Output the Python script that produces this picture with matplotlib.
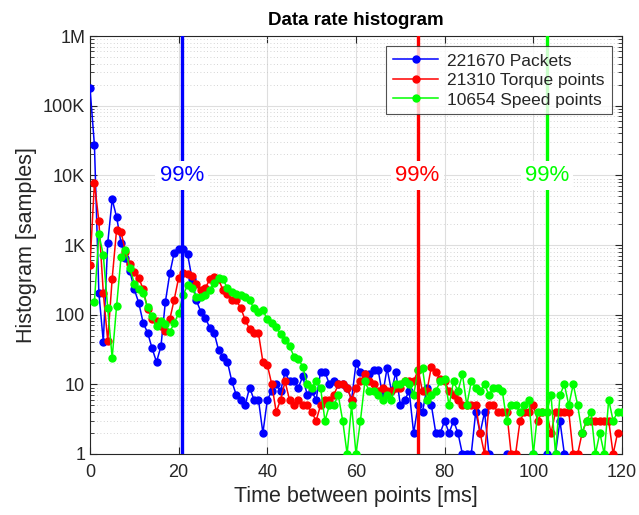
import numpy as np
import matplotlib
matplotlib.use("Agg")
import matplotlib.pyplot as plt
from matplotlib.ticker import FixedLocator, LogLocator, NullFormatter

plt.rcParams['font.family'] = ['Liberation Sans', 'DejaVu Sans']

nan = np.nan
time_ms = list(range(0, 121))

packets = [180000, 27000, 205, 41, 1070, 4500, 2530, 1070, 650, 420,
           230, 148, 76, 55, 33, 21, 35, 153, 390, 780,
           880, 880, 750, 330, 160, 110, 91, 65, 55, 31,
           25, 21, 11, 7, 6, 5, 9, 6, 6, 2,
           6, 8, 10, 8, 15, 11, 11, 9, 13, 7,
           8, 6, 15, 15, 10, 11, 10, 10, 9, 6,
           20, 15, 14, 14, 16, 16, 7, 17, 8, 15,
           5, 6, 8, 2, 5, 4, 9, 5, 2, 2,
           3, 2, 3, 2, 1, 1, 1, 4, 2, 4,
           1, nan, nan, nan, 1, nan, nan, nan, nan, nan,
           1, nan, nan, 1, nan, 1, 3, 1, nan, nan,
           nan, 2, nan, nan, nan, nan, nan, nan, nan, nan, nan]

torque = [515, 7800, 2200, 205, 42, 330, 1660, 1540, 800, 540,
          410, 340, 230, 120, 88, 82, 68, 59, 86, 165,
          340, 390, 380, 360, 280, 225, 240, 320, 350, 320,
          225, 200, 160, 160, 125, 84, 62, 55, 54, 21,
          19, 10, 4, 6, 11, 6, 5, 6, 5, 5,
          4, 3, 5, 6, 6, 7, 10, 10, 9, 6,
          9, 11, 14, 11, 10, 8, 9, 8, 8, 9,
          9, 11, 11, 11, 16, 8, 8, 18, 15, 12,
          11, 8, 7, 6, 5, 5, 5, 5, 2, 1,
          5, 5, 4, 4, 4, 1, 1, 3, 4, 4,
          5, 3, 4, 4, 2, 4, 4, 4, 4, 1,
          1, 2, 3, 3, 3, 3, 3, 3, 1, 2, nan]

speed = [nan, 154, 1430, 720, 123, 24, 133, 670, 840, 460,
         280, 230, 205, 127, 95, 68, 82, 73, 57, 75,
         106, 190, 265, 240, 177, 177, 190, 225, 285, 340,
         320, 240, 212, 197, 190, 177, 160, 123, 110, 115,
         86, 76, 67, 52, 44, 36, 25, 23, 18, 10,
         9, 11, 9, 3, 5, 5, 7, 3, 1, 5,
         1, 3, 11, 8, 8, 7, 6, 7, 6, 10,
         10, 11, 10, 7, 16, 17, 6, 7, 8, 11,
         12, 5, 11, 8, 14, 5, 11, 9, 8, 10,
         7, 9, 9, 8, 3, 5, 5, 4, 5, 6,
         1, 4, 4, 4, 7, 1, 7, 10, 5, 10,
         5, 2, 3, 4, 1, 2, 1, 6, 3, 4, 4]

series_labels = ['221670 Packets', '21310 Torque points', '10654 Speed points']
series_colors = ['#0000ff', '#ff0000', '#00ff00']
p99_ms = [20.7, 73.9, 103.1]
p99_label = '99%'

ytick_vals = [1, 10, 100, 1e3, 1e4, 1e5, 1e6]
ytick_labels = ['1', '10', '100', '1K', '10K', '100K', '1M']
xtick_vals = [0, 20, 40, 60, 80, 100, 120]

fig = plt.figure(figsize=(6.39, 5.15), dpi=100)
ax = fig.add_axes([90/639, 1-454/515, (622-90)/639, (454-36)/515])

dark = (0.15, 0.15, 0.15)

for vals, col, lab in zip([packets, torque, speed], series_colors, series_labels):
    ax.plot(time_ms, vals, '-o', color=col, markersize=5, linewidth=1.1,
            label=lab, zorder=3)

for xv, col in zip(p99_ms, series_colors):
    ax.axvline(xv, color=col, linewidth=2.4, zorder=4)
    ax.text(xv, 1e4, p99_label, color=col, fontsize=16, ha='center', va='center',
            zorder=5, bbox=dict(facecolor='white', edgecolor='none', pad=3))

ax.set_yscale('log')
ax.set_xlim(0, 120)
ax.set_ylim(1, 1e6)
ax.yaxis.set_major_locator(FixedLocator(ytick_vals))
ax.set_yticklabels(ytick_labels)
ax.yaxis.set_minor_locator(LogLocator(base=10, subs=np.arange(2, 10), numticks=20))
ax.yaxis.set_minor_formatter(NullFormatter())
ax.set_xticks(xtick_vals)

ax.grid(True, which='major', color=(0.87, 0.87, 0.87), linewidth=0.8, linestyle='-', zorder=0)
ax.grid(True, which='minor', axis='y', color=(0.78, 0.78, 0.78), linewidth=0.6,
        linestyle=(0, (1, 3)), zorder=0)
ax.set_axisbelow(True)

ax.tick_params(which='both', direction='in', top=True, right=True, colors=dark,
               labelcolor=dark, labelsize=13)
ax.tick_params(which='major', length=5, width=0.8)
ax.tick_params(which='minor', length=3, width=0.6)
ax.tick_params(axis='x', pad=7)
for s in ax.spines.values():
    s.set_color(dark)
    s.set_linewidth(0.8)

ax.set_title('Data rate histogram', fontsize=13.5, fontweight='bold', color='black', pad=8)
ax.set_xlabel('Time between points [ms]', fontsize=15.5, color=dark, labelpad=4)
ax.set_ylabel('Histogram [samples]', fontsize=15.5, color=dark, labelpad=4)

leg = ax.legend(loc='upper right', fontsize=12.5, frameon=True, fancybox=False,
                borderaxespad=0.6, handlelength=2.6, handletextpad=0.5,
                labelspacing=0.25, borderpad=0.4)
leg.get_frame().set_edgecolor(dark)
leg.get_frame().set_linewidth(0.8)
for t in leg.get_texts():
    t.set_color(dark)

fig.savefig('out.png', dpi=100)
